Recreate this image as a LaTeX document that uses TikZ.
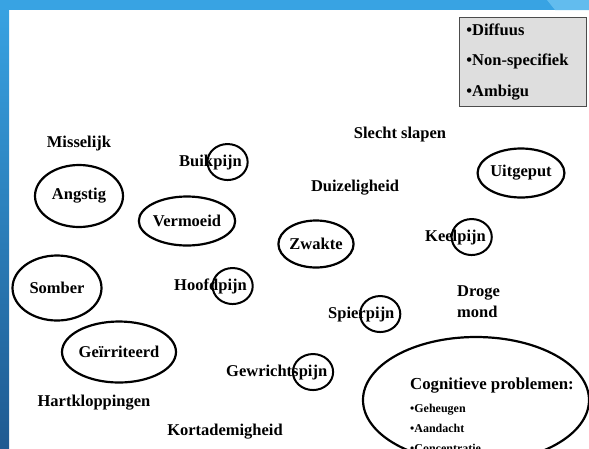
\documentclass[tikz,border=0pt]{standalone}
\usepackage{fontspec}
\setmainfont{Liberation Serif}
\usetikzlibrary{shapes.geometric}

\definecolor{frameblue}{HTML}{38A3E3}
\definecolor{framedark}{HTML}{1F5A91}
\definecolor{framelight}{HTML}{62BCEE}
\definecolor{panelgray}{HTML}{DEDEDE}

\begin{document}
\begin{tikzpicture}[x=1pt, y=-1pt,
  word/.style={inner sep=0pt, font=\fontsize{16.5}{21}\selectfont\bfseries},
  small/.style={inner sep=0pt, font=\fontsize{12}{20}\selectfont\bfseries},
  blob/.style={word, draw, ellipse, line width=2.2pt},
  ring/.style={word, draw, ellipse, line width=2pt, minimum width=40pt, minimum height=36pt}]
  \useasboundingbox (0,0) rectangle (589,448);
  \clip (0,0) rectangle (589,448);

  % Slide frame
  \shade[top color=frameblue, bottom color=framedark] (0,0) rectangle (9,448);
  \fill[frameblue] (0,0) rectangle (589,10);
  \fill[framelight] (547,0) -- (589,0) -- (589,10) -- (555,10) -- cycle;

  % Box top right
  \node[word, draw=black!70, fill=panelgray, line width=0.8pt, anchor=north west,
    minimum width=127pt, minimum height=89pt, text width=113pt, inner xsep=7pt,
    align=left, font=\fontsize{16.5}{30.5}\selectfont\bfseries] (panel) at (459,17)
    {•Diffuus\\•Non-specifiek\\•Ambigu};

  % Loose complaints
  \node[word] (misselijk) at (79,144) {Misselijk};
  \node[word] (slapen) at (400,135) {Slecht slapen};
  \node[word] (duizelig) at (355,188) {Duizeligheid};
  \node[word, anchor=base west] (droge) at (457,296) {Droge};
  \node[word, anchor=base west] (mond) at (457,317) {mond};
  \node[word] (hartklop) at (94,403) {Hartkloppingen};
  \node[word] (kortadem) at (225,432) {Kortademigheid};

  % Circled complaints
  \node[blob, minimum width=88pt, minimum height=62pt] (angstig) at (79,196) {Angstig};
  \node[blob, minimum width=83pt, minimum height=49pt] (vermoeid) at (187,221) {Vermoeid};
  \node[blob, minimum width=74pt, minimum height=47pt] (zwakte) at (316,244) {Zwakte};
  \node[blob, minimum width=89pt, minimum height=65pt] (somber) at (57,288) {Somber};
  \node[blob, minimum width=83pt, minimum height=49pt] (uitgeput) at (521,173) {Uitgeput};
  \node[blob, minimum width=103pt, minimum height=61pt] (geirriteerd) at (119,352) {Geïrriteerd};

  % Pain, only "pijn" circled
  \node[word, anchor=base west] (buik) at (179,166) {Buik};
  \node[ring, anchor=text] (buikpijn) at (buik.base east) {pijn};
  \node[word, anchor=base west] (hoofd) at (174,290) {Hoofd};
  \node[ring, anchor=text] (hoofdpijn) at (hoofd.base east) {pijn};
  \node[word, anchor=base west] (keel) at (425,241) {Keel};
  \node[ring, anchor=text] (keelpijn) at (keel.base east) {pijn};
  \node[word, anchor=base west] (spier) at (328,318) {Spier};
  \node[ring, anchor=text] (spierpijn) at (spier.base east) {pijn};
  \node[word, anchor=base west] (gewricht) at (226,376) {Gewrichts};
  \node[ring, anchor=text] (gewrichtspijn) at (gewricht.base east) {pijn};

  % Cognitive problems
  \node[blob, minimum width=226pt, minimum height=126pt] (cogring) at (476,400) {};
  \node[word, anchor=base west, font=\fontsize{16.8}{21}\selectfont\bfseries] (cogn) at (410,389) {Cognitieve problemen:};
  \node[small, anchor=base west] (geheugen) at (410,412) {•Geheugen};
  \node[small, anchor=base west] (aandacht) at (410,432) {•Aandacht};
  \node[small, anchor=base west] (concentratie) at (410,452) {•Concentratie};
\end{tikzpicture}
\end{document}
